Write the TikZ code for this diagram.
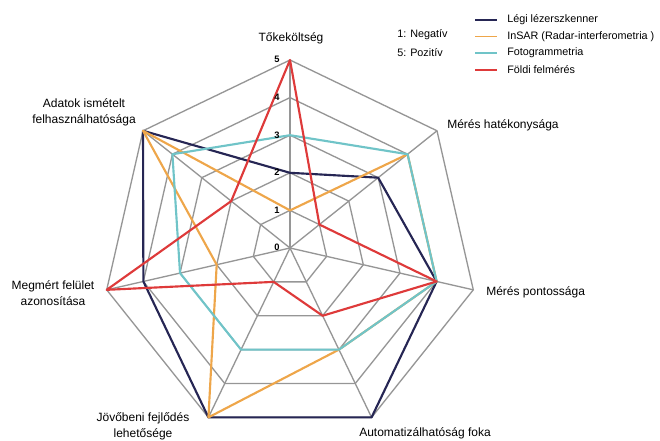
\documentclass[tikz,border=0pt]{standalone}
\usepackage{fontspec}
\setmainfont{Liberation Sans}
\usetikzlibrary{positioning}
\definecolor{gridgrey}{RGB}{150,150,150}
\definecolor{legiblue}{RGB}{38,38,84}
\definecolor{insarorange}{RGB}{238,166,74}
\definecolor{fotocyan}{RGB}{112,196,200}
\definecolor{foldired}{RGB}{222,58,58}
\tikzset{
  gridline/.style={draw=gridgrey, line width=1pt},
  series/.style={line width=1.6pt, line join=round},
  axislabel/.style={inner sep=0.75pt, align=center, font=\fontsize{9}{12}\selectfont},
  scalenum/.style={inner sep=0.75pt, font=\fontsize{7}{8}\selectfont\bfseries},
  legendtext/.style={inner sep=0.75pt, anchor=west, font=\fontsize{8.1}{10}\selectfont},
}

\begin{document}
\begin{tikzpicture}[x=0.75pt,y=0.75pt,yscale=-1,xscale=1]
\useasboundingbox (0,0) rectangle (660,441);
\coordinate (c) at (290,248);

%Rings 1..5
\draw [gridline] (290,210.4) -- (319.40,224.56) -- (326.66,256.37) -- (306.31,281.88) -- (273.69,281.88) -- (253.34,256.37) -- (260.60,224.56) -- cycle ;
\draw [gridline] (290,172.8) -- (348.79,201.11) -- (363.31,264.73) -- (322.63,315.75) -- (257.37,315.75) -- (216.69,264.73) -- (231.21,201.11) -- cycle ;
\draw [gridline] (290,135.2) -- (378.19,177.67) -- (399.97,273.10) -- (338.94,349.63) -- (241.06,349.63) -- (180.03,273.10) -- (201.81,177.67) -- cycle ;
\draw [gridline] (290,97.6) -- (407.59,154.23) -- (436.63,281.47) -- (355.26,383.51) -- (224.74,383.51) -- (143.37,281.47) -- (172.41,154.23) -- cycle ;
\draw [gridline] (290,60) -- (436.98,130.78) -- (473.29,289.83) -- (371.57,417.38) -- (208.43,417.38) -- (106.71,289.83) -- (143.02,130.78) -- cycle ;
%Spokes
\draw [gridline] (c) -- (290,60) ;
\draw [gridline] (c) -- (436.98,130.78) ;
\draw [gridline] (c) -- (473.29,289.83) ;
\draw [gridline] (c) -- (371.57,417.38) ;
\draw [gridline] (c) -- (208.43,417.38) ;
\draw [gridline] (c) -- (106.71,289.83) ;
\draw [gridline] (c) -- (143.02,130.78) ;

%Legi lezerszkenner
\draw [series, draw=legiblue] (290,172.8) -- (378.19,177.67) -- (436.63,281.47) -- (371.57,417.38) -- (208.43,417.38) -- (143.37,281.47) -- (143.02,130.78) -- cycle ;
%InSAR
\draw [series, draw=insarorange] (290,210.4) -- (407.59,154.23) -- (436.63,281.47) -- (338.94,349.63) -- (208.43,417.38) -- (216.69,264.73) -- (143.02,130.78) -- cycle ;
%Fotogrammetria
\draw [series, draw=fotocyan] (290,135.2) -- (407.59,154.23) -- (436.63,281.47) -- (338.94,349.63) -- (241.06,349.63) -- (180.03,273.10) -- (172.41,154.23) -- cycle ;
%Foldi felmeres
\draw [series, draw=foldired] (290,60) -- (319.40,224.56) -- (436.63,281.47) -- (322.63,315.75) -- (273.69,281.88) -- (106.71,289.83) -- (231.21,201.11) -- cycle ;

%Scale numbers
\node [scalenum] (s0) at (277,247) {0};
\node [scalenum] (s1) at (277,210) {1};
\node [scalenum] (s2) at (277,172) {2};
\node [scalenum] (s3) at (277,135) {3};
\node [scalenum] (s4) at (277,97) {4};
\node [scalenum] (s5) at (277,59) {5};

%Axis labels
\node [axislabel] (tokekoltseg) at (291,38) {Tőkeköltség};
\node [axislabel, anchor=west] (hatekonysag) at (446,125) {Mérés hatékonysága};
\node [axislabel, anchor=west] (pontossag) at (485,292) {Mérés pontossága};
\node [axislabel] (automat) at (425,433) {Automatizálhatóság foka};
\node [axislabel] (jovobeni) at (143,426) {Jövőbeni fejlődés\\lehetősége};
\node [axislabel] (megmert) at (53,293) {Megmért felület\\azonosítása};
\node [axislabel] (adatok) at (84,112) {Adatok ismételt\\felhasználhatósága};

%Legend
\node [legendtext] (neg) at (396,35) {1: Negatív};
\node [legendtext] (poz) at (396,53) {5: Pozitív};
\node [legendtext] (leg1) at (506,20) {Légi lézerszkenner};
\node [legendtext] (leg2) at (506,36.5) {InSAR (Radar-interferometria )};
\node [legendtext] (leg3) at (506,53) {Fotogrammetria};
\node [legendtext] (leg4) at (506,70) {Földi felmérés};
\draw [series, draw=legiblue, line width=1.2pt] (475,20) -- (497,20) ;
\draw [series, draw=insarorange, line width=1.2pt] (475,36.5) -- (497,36.5) ;
\draw [series, draw=fotocyan, line width=1.2pt] (475,53) -- (497,53) ;
\draw [series, draw=foldired, line width=1.2pt] (475,70) -- (497,70) ;
\end{tikzpicture}
\end{document}
